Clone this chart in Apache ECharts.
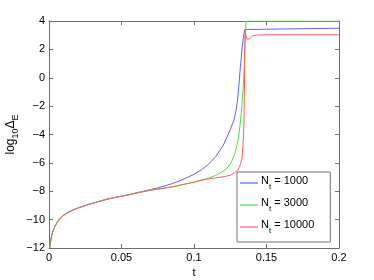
<!DOCTYPE html>
<html><head><meta charset="utf-8">
<script src="https://cdn.jsdelivr.net/npm/echarts@6/dist/echarts.min.js"></script>
<style>html,body{margin:0;padding:0;background:#fff}#c{width:374px;height:280px}</style>
</head><body><div id="c"></div>
<script>
var xTicks = [0, 0.05, 0.1, 0.15, 0.2];
var yTicks = [-12, -10, -8, -6, -4, -2, 0, 2, 4];
var seriesNames = ['1000', '3000', '10000'];

// shared early part of all three runs
var tCommon = [0.0005,0.001,0.0015,0.002,0.003,0.004,0.005,0.0065,0.008,0.01,0.0125,0.015,0.0175,0.02,0.025,0.03,0.035,0.04,0.045,0.05,0.055];
var yCommon = [-12.0,-11.6,-11.3,-11.05,-10.75,-10.5,-10.3,-10.05,-9.88,-9.7,-9.53,-9.4,-9.28,-9.18,-9.0,-8.85,-8.7,-8.56,-8.45,-8.35,-8.25];

var tBlue = [0.06,0.065,0.07,0.075,0.08,0.085,0.09,0.095,0.1,0.105,0.11,0.115,0.12,0.1218,0.125,0.1276,0.129,0.13,0.131,0.132,0.133,0.134,0.135,0.1356,0.2];
var yBlue = [-8.12,-8.0,-7.88,-7.76,-7.62,-7.46,-7.27,-7.05,-6.8,-6.5,-6.1,-5.55,-4.8,-4.39,-3.65,-2.98,-2.3,-1.6,-0.5,0.8,1.9,2.8,3.4,3.49,3.49];

var tGreen = [0.06,0.065,0.07,0.075,0.08,0.085,0.09,0.095,0.1,0.105,0.11,0.115,0.12,0.1225,0.125,0.1264,0.128,0.13,0.131,0.132,0.133,0.134,0.1345,0.135,0.1355,0.136,0.2];
var yGreen = [-8.13,-8.03,-7.93,-7.85,-7.77,-7.69,-7.58,-7.47,-7.35,-7.2,-7.08,-6.88,-6.6,-6.4,-6.1,-5.8,-5.4,-4.6,-4.0,-3.1,-2.0,-0.6,0.5,1.8,3.0,4.0,4.0];

var tRed = [0.06,0.065,0.07,0.075,0.08,0.085,0.09,0.095,0.1,0.105,0.11,0.115,0.12,0.1225,0.125,0.1264,0.128,0.1303,0.132,0.1331,0.134,0.1345,0.1349,0.1352,0.1358,0.1365,0.1372,0.138,0.139,0.1403,0.143,0.1483,0.2];
var yRed = [-8.13,-8.03,-7.93,-7.85,-7.77,-7.69,-7.58,-7.47,-7.36,-7.23,-7.13,-7.06,-6.98,-6.93,-6.87,-6.8,-6.7,-6.5,-6.1,-5.7,-4.39,-2.98,0.0,3.37,3.0,2.72,2.66,2.72,2.84,2.94,3.0,3.03,3.03];

function pairs(t, y) { return t.map(function (v, i) { return [v, y[i]]; }); }
function fmtNum(v) { return (v < 0 ? '\u2212' : '') + Math.abs(v); }

var font = 'Liberation Sans, Arial, sans-serif';
var axisCol = '#6e6e6e';
var chart = echarts.init(document.getElementById('c'), null, {renderer: 'canvas'});

function baseAxis(extra) {
  return Object.assign({
    type: 'value',
    axisLine: {show: true, onZero: false, lineStyle: {color: axisCol, width: 1}},
    axisTick: {show: true, inside: true, length: 4, lineStyle: {color: axisCol}},
    splitLine: {show: false},
    axisLabel: {show: false}
  }, extra);
}

function lineSeries(name, t, y, color) {
  return {name: name, type: 'line', data: pairs(tCommon, yCommon).concat(pairs(t, y)),
    showSymbol: false, symbol: 'none', smooth: false, clip: true,
    lineStyle: {color: color, width: 1}, itemStyle: {color: color}};
}

var option = {
  animation: false,
  backgroundColor: '#fff',
  grid: {left: 49, right: 35, top: 21, bottom: 32, containLabel: false, outerBoundsMode: 'none'},
  xAxis: [
    baseAxis({min: 0, max: 0.2, interval: 0.05, position: 'bottom',
      name: 't', nameLocation: 'middle', nameGap: 18,
      nameTextStyle: {fontFamily: font, fontSize: 11, color: '#000'},
      axisLabel: {show: true, margin: 4, fontFamily: font, fontSize: 11, color: '#000',
        formatter: function (v) { return fmtNum(v); }}}),
    baseAxis({min: 0, max: 0.2, interval: 0.05, position: 'top'})
  ],
  yAxis: [
    baseAxis({min: -12, max: 4, interval: 2, position: 'left',
      name: '{a|log}{s|10}{a|\u0394}{s|E}', nameLocation: 'middle', nameGap: 29, nameRotate: 90,
      nameMoveOverlap: false,
      nameTextStyle: {fontFamily: font, fontSize: 12, color: '#000',
        rich: {a: {fontFamily: font, fontSize: 12, color: '#000', verticalAlign: 'top', lineHeight: 15},
               s: {fontFamily: font, fontSize: 9, color: '#000', verticalAlign: 'bottom', lineHeight: 15, padding: [6, 0, 0, 0]}}},
      axisLabel: {show: true, margin: 4, fontFamily: font, fontSize: 11, color: '#000',
        formatter: function (v) { return fmtNum(v); }}}),
    baseAxis({min: -12, max: 4, interval: 2, position: 'right'})
  ],
  legend: {
    orient: 'vertical', left: 237, top: 172,
    padding: [3, 16, 7, 3], itemGap: 6,
    itemWidth: 18, itemHeight: 1.2, icon: 'rect',
    backgroundColor: '#fff', borderColor: '#707070', borderWidth: 1, borderRadius: 0,
    data: seriesNames.map(function (n) { return 'N_t = ' + n; }),
    formatter: function (name) { return '{n|N}{s|t}{n| = ' + name.split('= ')[1] + '}'; },
    textStyle: {fontFamily: font, fontSize: 11, color: '#000', padding: [0, 0, 0, -2],
      rich: {n: {fontFamily: font, fontSize: 11, color: '#000', verticalAlign: 'top', lineHeight: 16},
             s: {fontFamily: font, fontSize: 8, color: '#000', verticalAlign: 'bottom', lineHeight: 16, padding: [6, 0, 0, 0]}}}
  },
  series: [
    lineSeries('N_t = 1000', tBlue, yBlue, '#6060ff'),
    lineSeries('N_t = 3000', tGreen, yGreen, '#44e044'),
    lineSeries('N_t = 10000', tRed, yRed, '#ff5e5e')
  ]
};
chart.setOption(option);
</script></body></html>
